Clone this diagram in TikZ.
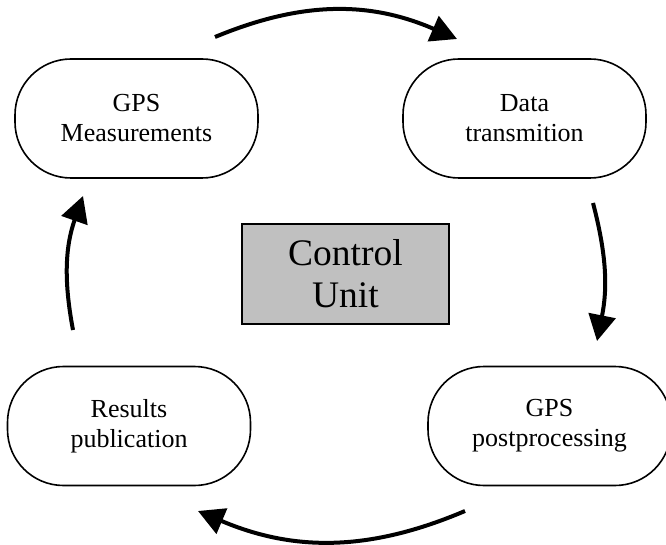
\documentclass[tikz,border=0pt]{standalone}
\usepackage{fontspec}
\setmainfont{Liberation Serif}
\usepackage{tikz}
\usetikzlibrary{arrows.meta,positioning}
\definecolor{unitgray}{RGB}{192,192,192}

\begin{document}
\begin{tikzpicture}[->,>={Triangle[length=26pt,width=27pt]},line width=4pt,x=1pt,y=1pt,node distance=388pt]
\tikzstyle{task}=[draw=black,text=black,line width=1.6pt,rounded corners=56pt,minimum width=243pt,minimum height=119pt,inner sep=0pt,align=center,font=\fontsize{26}{30}\selectfont]
\tikzstyle{unit}=[draw=black,fill=unitgray,line width=1.4pt,minimum width=207pt,minimum height=100pt,inner sep=0pt,align=center,font=\fontsize{37.5}{42}\selectfont]
\useasboundingbox (0,0) rectangle (666,544);
\node[task] (1) at (136.5,425.5) {GPS\\Measurements};
\node[task][right of=1](2){Data\\transmition};
\node[task][below of=1,node distance=307.5pt,xshift=-7.5pt](4){Results\\publication};
\node[task][right of=4,node distance=420.5pt](3){GPS\\postprocessing};
\node[unit] (5) at (345.5,270) {Control\\Unit};
% arrow ends
\coordinate (12a) at (215,507);
\coordinate (12b) at (457,505);
\coordinate (23a) at (593,341);
\coordinate (23b) at (597,203);
\coordinate (34a) at (465,33);
\coordinate (34b) at (198,33);
\coordinate (41a) at (73,214);
\coordinate (41b) at (83,348);
\path (12a) edge [bend left=23] (12b)
      (23a) edge [bend left=13] (23b)
      (34a) edge [bend left=23] (34b)
      (41a) edge [bend left=15] (41b);
\end{tikzpicture}
\end{document}
